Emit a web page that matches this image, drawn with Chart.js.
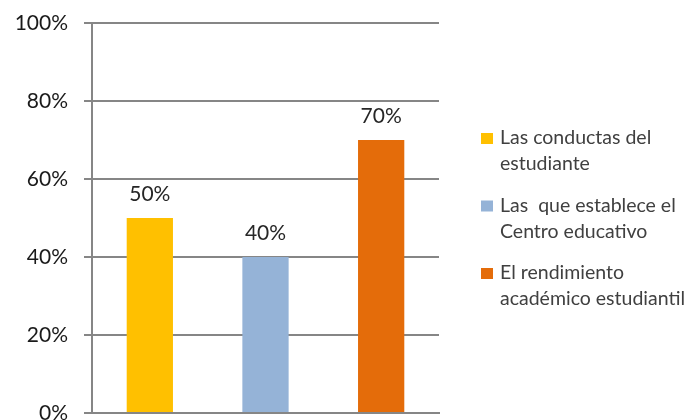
<!DOCTYPE html>
<html>
<head>
<meta charset="utf-8">
<script src="https://cdn.jsdelivr.net/npm/chart.js@4/dist/chart.umd.min.js"></script>
<style>
    html, body { margin: 0; padding: 0; background: #fff; }
    #wrap { width: 692px; height: 420px; }
</style>
</head>
<body>
<div id="wrap"><canvas id="chart"></canvas></div>
<script>
const categories = ['Las conductas del estudiante', 'Las  que establece el Centro educativo', 'El rendimiento académico estudiantil'];
const legendLines = [['Las conductas del', 'estudiante'], ['Las  que establece el', 'Centro educativo'], ['El rendimiento', 'académico estudiantil']];
const values = [50, 40, 70];
const barColors = ['#FFC000', '#95B3D7', '#E46C0A'];
const yTicks = [0, 20, 40, 60, 80, 100];

const FONT = 'Lato, "DejaVu Sans", sans-serif';

const barLabels = {
    id: 'barLabels',
    afterDatasetsDraw(chart) {
        const ctx = chart.ctx;
        const meta = chart.getDatasetMeta(0);
        ctx.save();
        ctx.font = '21px ' + FONT;
        ctx.fillStyle = '#262626';
        ctx.textAlign = 'center';
        ctx.textBaseline = 'alphabetic';
        meta.data.forEach((bar, i) => {
            ctx.fillText(values[i] + '%', bar.x, bar.y - 17);
        });
        ctx.restore();
    }
};

const sideLegend = {
    id: 'sideLegend',
    afterDraw(chart) {
        const ctx = chart.ctx;
        ctx.save();
        ctx.font = '19.5px ' + FONT;
        ctx.textBaseline = 'alphabetic';
        ctx.textAlign = 'left';
        legendLines.forEach((lines, i) => {
            const base = 144 + i * 67.5;
            ctx.fillStyle = barColors[i];
            ctx.fillRect(481, base - 11, 12, 11);
            ctx.fillStyle = '#404040';
            lines.forEach((line, j) => {
                ctx.fillText(line, 500, base + j * 26);
            });
        });
        ctx.restore();
    }
};

new Chart(document.getElementById('chart'), {
    type: 'bar',
    data: {
        labels: categories,
        datasets: [{
            data: values,
            backgroundColor: barColors,
            categoryPercentage: 1,
            barPercentage: 0.4
        }]
    },
    options: {
        responsive: true,
        maintainAspectRatio: false,
        animation: false,
        layout: { padding: { top: 23, right: 253, bottom: 7, left: 0 } },
        plugins: {
            legend: { display: false },
            tooltip: { enabled: false }
        },
        scales: {
            x: {
                ticks: { display: false },
                grid: { display: false },
                border: { display: true, color: '#868686', width: 2 },
                afterFit(scale) {
                    scale.height = 0;
                    scale.paddingLeft = 0;
                    scale.paddingRight = 0;
                }
            },
            y: {
                min: 0,
                max: 100,
                afterBuildTicks(scale) {
                    scale.ticks = yTicks.map(v => ({ value: v }));
                },
                ticks: {
                    padding: 16,
                    color: '#1a1a1a',
                    font: { family: FONT, size: 21 },
                    callback: v => v + '%'
                },
                grid: { color: '#868686', lineWidth: 2, tickLength: 8 },
                border: { display: true, color: '#868686', width: 2 },
                afterFit(scale) {
                    scale.width = 92;
                    scale.paddingTop = 0;
                    scale.paddingBottom = 0;
                }
            }
        }
    },
    plugins: [barLabels, sideLegend]
});
</script>
</body>
</html>
